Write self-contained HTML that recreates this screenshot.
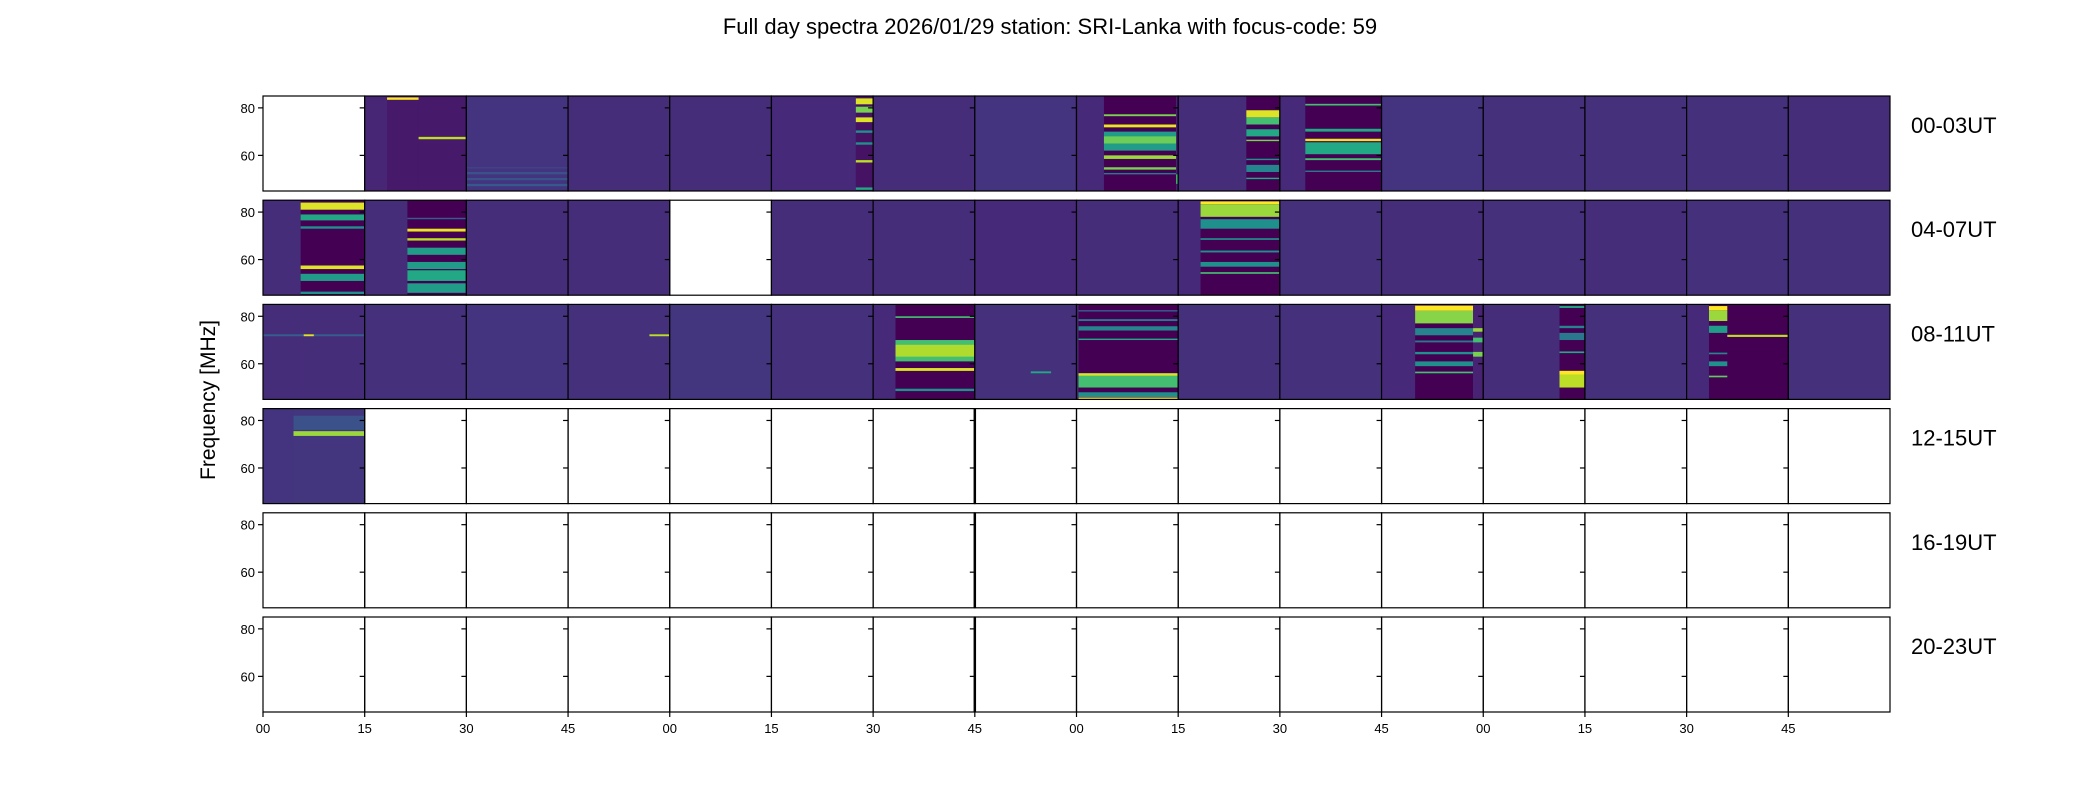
<!DOCTYPE html>
<html><head><meta charset="utf-8"><style>
body{margin:0;background:#fff;}
svg{display:block;font-family:"Liberation Sans","DejaVu Sans",sans-serif;}
</style></head><body>
<svg id="chart" width="2100" height="800" viewBox="0 0 2100 800" xmlns="http://www.w3.org/2000/svg">
<text x="1050" y="34" font-size="22" text-anchor="middle">Full day spectra 2026/01/29 station: SRI-Lanka with focus-code: 59</text>
<text transform="translate(215,400) rotate(-90)" font-size="21" text-anchor="middle">Frequency [MHz]</text>
<g id="plots"></g>
</svg>
<script>
const rowLabels = ["00-03UT","04-07UT","08-11UT","12-15UT","16-19UT","20-23UT"];
const xTickLabels = ["00","15","30","45","00","15","30","45","00","15","30","45","00","15","30","45"];
const yTicks = [60, 80];
const freqRange = [45, 85];
// panel spectra: bg level, segments [tStart,tEnd,bgLevel,[[f0,f1,level],...]]
const panels = [
 null,
 {bg:.11,seg:[[.22,1,.07,[[83.4,84.4,1]]],[.53,1,.07,[[66.8,67.8,.9]]]]},
 {bg:.15,seg:[[0,1,.15,[[47,48,.28],[49.5,50.5,.25],[52,53,.25],[54.5,55,.22]]]]},
 {bg:.13,seg:[]},{bg:.13,seg:[]},
 {bg:.12,seg:[[.83,1,.05,[[81.5,84,.95],[78,80.5,.8],[74,76,.95],[69.5,70.5,.5],[64.5,65.5,.5],[57,58,.9],[45.5,46.5,.6]]]]},
 {bg:.13,seg:[]},{bg:.15,seg:[]},
 {bg:.12,seg:[[.27,.98,0,[[76.5,77.3,.8],[71.8,73,.97],[62,70,.55],[65,68,.78],[58.5,60,.85],[54,55,.8],[52,52.6,.4]]],[.98,1,.1,[[48,52,.7]]]]},
 {bg:.13,seg:[[.67,1,0,[[76,79,.95],[73,76,.7],[68,71,.6],[66,66.6,.8],[58,58.6,.5],[53,56,.45],[50,50.6,.6]]]]},
 {bg:.12,seg:[[.25,1,0,[[81,81.7,.7],[70,71.2,.6],[66,67,.97],[60.5,65.5,.6],[58,58.8,.7],[53,53.6,.4]]]]},
 {bg:.15,seg:[]},{bg:.14,seg:[]},{bg:.14,seg:[]},{bg:.14,seg:[]},{bg:.13,seg:[]},
 {bg:.13,seg:[[.37,1,0,[[81,84,.95],[76.5,79,.6],[73,74,.5],[56,57.5,.95],[51,54,.55],[45.5,46.5,.5]]]]},
 {bg:.13,seg:[[.42,1,0,[[77,77.6,.3],[71.8,73,.97],[68,69,.9],[62,65,.55],[56,59,.55],[51,55.5,.6],[46,50,.55]]]]},
 {bg:.13,seg:[]},{bg:.13,seg:[]},null,{bg:.13,seg:[]},{bg:.13,seg:[]},{bg:.12,seg:[]},{bg:.13,seg:[]},
 {bg:.12,seg:[[.22,1,0,[[83.3,84.5,1],[78,83.3,.85],[73,77,.5],[68.3,69,.5],[63,63.8,.5],[57,59,.5],[54,54.7,.7]]]]},
 {bg:.14,seg:[]},{bg:.13,seg:[]},{bg:.14,seg:[]},{bg:.13,seg:[]},{bg:.14,seg:[]},{bg:.14,seg:[]},
 {bg:.13,seg:[[0,1,.13,[[71.6,72.4,.3]]],[.4,.5,.13,[[71.6,72.4,.95]]]]},
 {bg:.14,seg:[]},{bg:.15,seg:[]},
 {bg:.14,seg:[[.8,1,.14,[[71.6,72.4,.9]]]]},
 {bg:.16,seg:[]},{bg:.14,seg:[]},
 {bg:.12,seg:[[.22,1,0,[[79.3,80,.7],[61,70,.7],[63,68,.88],[57,58.2,.95],[48.5,49.5,.5]]]]},
 {bg:.14,seg:[[.55,.75,.14,[[56,56.8,.6]]]]},
 {bg:.12,seg:[[.02,1,0,[[82,82.6,.3],[78,78.8,.4],[74,75.8,.45],[70,70.6,.6],[50,56,.7],[55,56,.95],[46,48,.5],[45,45.8,1]]]]},
 {bg:.14,seg:[]},{bg:.14,seg:[]},
 {bg:.12,seg:[[.33,.9,0,[[82.3,84.5,1],[77,82.3,.82],[72,75,.45],[69,69.8,.4],[64,65,.5],[59,61,.5],[56,56.7,.7]]],[.9,1,.1,[[73.5,75,.85],[69,71,.7],[63,65,.8]]]]},
 {bg:.13,seg:[[.75,1,0,[[83.5,84.3,.6],[75,76,.45],[70,73,.4],[64.5,65.2,.6],[50,57,.9],[55.5,57,1]]]]},
 {bg:.14,seg:[]},
 {bg:.12,seg:[[.22,1,0,[[82.5,84.3,1],[78,82.5,.85],[73,76,.55],[64,64.7,.45],[59,61,.5],[54.3,55,.75]]],[.4,1,0,[[71.3,72.2,.9]]]]},
 {bg:.14,seg:[]},
 {bg:.15,seg:[[.3,1,.16,[[73.5,75.5,.85],[76,82,.25]]]]},
 null,null,null,null,null,null,null,null,null,null,null,null,null,null,null
];
while (panels.length < 96) panels.push(null);

const X0 = 263, X1 = 1890, NC = 16, PW = (X1 - X0) / NC, ROW0 = 96, PITCH = 104.2, PH = 95;
const vir = [[68,1,84],[72,35,116],[64,67,135],[52,94,141],[41,120,142],[32,144,140],[34,168,132],[68,190,112],[121,209,81],[189,222,38],[253,231,37]];
function viridis(v){v=Math.max(0,Math.min(1,v));const p=v*(vir.length-1),i=Math.min(vir.length-2,Math.floor(p)),f=p-i;
 const c=vir[i].map((a,k)=>Math.round(a+(vir[i+1][k]-a)*f));return `rgb(${c[0]},${c[1]},${c[2]})`;}
function fy(r,f){return ROW0+r*PITCH+PH*(freqRange[1]-f)/(freqRange[1]-freqRange[0]);}
function tx(c,t){return X0+c*PW+t*PW;}
const NS="http://www.w3.org/2000/svg", g=document.getElementById('plots');
function mk(tag,attrs){const e=document.createElementNS(NS,tag);for(const k in attrs)e.setAttribute(k,attrs[k]);g.appendChild(e);return e;}
for(let r=0;r<6;r++){
 for(let c=0;c<NC;c++){
  const p=panels[r*NC+c], x=tx(c,0), y=ROW0+r*PITCH;
  if(p){
   const bg=mk('rect',{x:x,y:y,width:PW,height:PH,fill:viridis(p.bg)});
   
   
   for(const s of p.seg){
    const sr=mk('rect',{x:tx(c,s[0]),y:y,width:(s[1]-s[0])*PW,height:PH,fill:viridis(s[2])});
    
    
    for(const b of s[3]){
     const br=mk('rect',{x:tx(c,s[0]),y:fy(r,b[1]),width:(s[1]-s[0])*PW,height:fy(r,b[0])-fy(r,b[1]),fill:viridis(b[2])});
     
     
    }
   }
  }
  const fr=mk('rect',{x:x,y:y,width:PW,height:PH,fill:'none',stroke:'#000','stroke-width':1.2});
  
  
  if(c===7&&r>=3){
   const thk=mk('line',{x1:x,x2:x,y1:y,y2:y+PH,stroke:'#000','stroke-width':2.5});
   
   
  }
  for(const t of yTicks){
   const ty=fy(r,t);
   const tk=mk('line',{x1:x-5,x2:x,y1:ty,y2:ty,stroke:'#000','stroke-width':1.2});
   
   
   if(c===0){
    const tl=mk('text',{x:x-8,y:ty+5,'font-size':13,'text-anchor':'end'});
    
    
    tl.textContent=t;
   }
  }
  if(r===5){
   const xt=mk('line',{x1:x,x2:x,y1:y+PH,y2:y+PH+5,stroke:'#000','stroke-width':1.2});
   
   
   const xl=mk('text',{x:x,y:y+PH+21,'font-size':13,'text-anchor':'middle'});
   
   
   xl.textContent=xTickLabels[c];
  }
 }
 const rl=mk('text',{x:1911,y:ROW0+r*PITCH+37,'font-size':22});
 
 
 rl.textContent=rowLabels[r];
}
</script>
</body></html>
